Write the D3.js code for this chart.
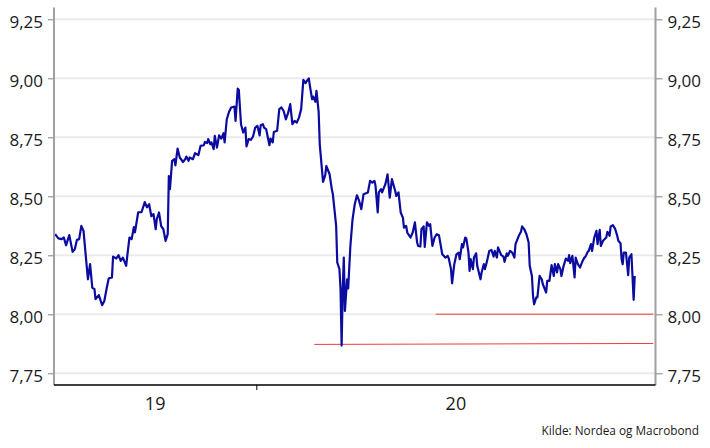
<!DOCTYPE html>
<html><head><meta charset="utf-8">
<script src="https://cdn.jsdelivr.net/npm/d3@7"></script>
<style>html,body{margin:0;padding:0;background:#fff}svg{display:block}text{font-family:"Open Sans",sans-serif;fill:#1a1a1a}</style>
</head><body><svg id="c" width="710" height="448"></svg>
<script>
const dates = [
"2019-07-01","2019-07-04","2019-07-07","2019-07-09","2019-07-11","2019-07-14","2019-07-17","2019-07-19","2019-07-21","2019-07-23",
"2019-07-25","2019-07-27","2019-07-31","2019-08-02","2019-08-04","2019-08-06","2019-08-07","2019-08-10","2019-08-13","2019-08-15",
"2019-08-17","2019-08-19","2019-08-22","2019-08-23","2019-08-26","2019-08-28","2019-08-30","2019-09-01","2019-09-04","2019-09-05",
"2019-09-07","2019-09-09","2019-09-11","2019-09-12","2019-09-15","2019-09-18","2019-09-21","2019-09-23","2019-09-25","2019-09-27",
"2019-09-29","2019-10-01","2019-10-02","2019-10-04","2019-10-06","2019-10-08","2019-10-10","2019-10-12","2019-10-13","2019-10-14",
"2019-10-16","2019-10-18","2019-10-19","2019-10-21","2019-10-23","2019-10-26","2019-10-28","2019-10-29","2019-10-31","2019-11-01",
"2019-11-04","2019-11-06","2019-11-09","2019-11-11","2019-11-14","2019-11-15","2019-11-17","2019-11-18","2019-11-20","2019-11-21",
"2019-11-23","2019-11-24","2019-11-26","2019-11-28","2019-11-30","2019-12-02","2019-12-03","2019-12-05","2019-12-07","2019-12-09",
"2019-12-12","2019-12-13","2019-12-15","2019-12-16","2019-12-18","2019-12-20","2019-12-22","2019-12-23","2019-12-25","2019-12-27",
"2019-12-29","2019-12-31","2020-01-02","2020-01-04","2020-01-05","2020-01-07","2020-01-08","2020-01-10","2020-01-13","2020-01-14",
"2020-01-16","2020-01-17","2020-01-20","2020-01-22","2020-01-24","2020-01-26","2020-01-28","2020-01-30","2020-02-01","2020-02-03",
"2020-02-05","2020-02-07","2020-02-09","2020-02-11","2020-02-13","2020-02-15","2020-02-16","2020-02-18","2020-02-19","2020-02-21",
"2020-02-22","2020-02-24","2020-02-25","2020-02-27","2020-02-28","2020-03-02","2020-03-04","2020-03-05","2020-03-08","2020-03-10",
"2020-03-11","2020-03-14","2020-03-15","2020-03-17","2020-03-18","2020-03-19","2020-03-20","2020-03-21","2020-03-22","2020-03-24",
"2020-03-25","2020-03-27","2020-03-29","2020-03-31","2020-04-02","2020-04-04","2020-04-06","2020-04-08","2020-04-12","2020-04-14",
"2020-04-16","2020-04-18","2020-04-19","2020-04-21","2020-04-22","2020-04-24","2020-04-25","2020-04-28","2020-04-30","2020-05-01",
"2020-05-02","2020-05-04","2020-05-07","2020-05-08","2020-05-10","2020-05-12","2020-05-14","2020-05-15","2020-05-17","2020-05-18",
"2020-05-21","2020-05-23","2020-05-25","2020-05-27","2020-05-28","2020-05-30","2020-05-31","2020-06-02","2020-06-03","2020-06-05",
"2020-06-07","2020-06-08","2020-06-10","2020-06-12","2020-06-14","2020-06-16","2020-06-19","2020-06-21","2020-06-22","2020-06-24",
"2020-06-25","2020-06-27","2020-06-28","2020-06-30","2020-07-02","2020-07-04","2020-07-05","2020-07-07","2020-07-08","2020-07-10",
"2020-07-11","2020-07-13","2020-07-14","2020-07-15","2020-07-17","2020-07-18","2020-07-20","2020-07-21","2020-07-24","2020-07-25",
"2020-07-27","2020-07-28","2020-07-30","2020-08-01","2020-08-03","2020-08-05","2020-08-06","2020-08-08","2020-08-09","2020-08-11",
"2020-08-12","2020-08-14","2020-08-15","2020-08-17","2020-08-18","2020-08-20","2020-08-22","2020-08-24","2020-08-25","2020-08-28",
"2020-08-30","2020-08-31","2020-09-02","2020-09-04","2020-09-06","2020-09-07","2020-09-09","2020-09-10","2020-09-11","2020-09-13",
"2020-09-14","2020-09-16","2020-09-18","2020-09-19","2020-09-22","2020-09-23","2020-09-25","2020-09-27","2020-09-29","2020-09-30",
"2020-10-02","2020-10-03","2020-10-05","2020-10-06","2020-10-08","2020-10-10","2020-10-12","2020-10-13","2020-10-14","2020-10-16",
"2020-10-18","2020-10-19","2020-10-21","2020-10-23","2020-10-25","2020-10-27","2020-10-28","2020-10-30","2020-10-31","2020-11-02",
"2020-11-03","2020-11-05","2020-11-07","2020-11-08","2020-11-10","2020-11-11","2020-11-13","2020-11-16","2020-11-17","2020-11-19",
"2020-11-20","2020-11-22","2020-11-24","2020-11-26","2020-11-27","2020-11-29","2020-11-30","2020-12-01","2020-12-02","2020-12-04",
"2020-12-06","2020-12-07","2020-12-09","2020-12-11","2020-12-12"
];
const values = [
8.339,8.321,8.318,8.325,8.292,8.335,8.264,8.275,8.315,8.318,
8.374,8.353,8.148,8.212,8.113,8.106,8.064,8.081,8.038,8.056,
8.106,8.151,8.156,8.244,8.236,8.250,8.226,8.240,8.205,8.247,
8.325,8.318,8.369,8.347,8.432,8.432,8.475,8.453,8.466,8.415,
8.424,8.360,8.403,8.431,8.373,8.360,8.311,8.339,8.585,8.530,
8.650,8.657,8.631,8.702,8.664,8.645,8.657,8.668,8.650,8.664,
8.657,8.682,8.674,8.713,8.716,8.730,8.725,8.742,8.720,8.728,
8.699,8.756,8.706,8.758,8.744,8.767,8.728,8.826,8.857,8.876,
8.880,8.819,8.956,8.950,8.805,8.770,8.791,8.711,8.742,8.739,
8.753,8.791,8.798,8.758,8.801,8.805,8.791,8.784,8.716,8.744,
8.728,8.772,8.777,8.869,8.876,8.861,8.826,8.852,8.890,8.805,
8.819,8.812,8.833,8.869,8.993,8.979,8.987,8.999,8.967,8.911,
8.922,8.900,8.946,8.856,8.720,8.561,8.589,8.628,8.593,8.530,
8.508,8.374,8.219,8.191,8.106,7.867,8.106,8.240,8.014,8.148,
8.109,8.289,8.403,8.466,8.504,8.480,8.445,8.508,8.516,8.565,
8.558,8.565,8.544,8.431,8.516,8.530,8.516,8.551,8.593,8.544,
8.494,8.572,8.522,8.501,8.516,8.431,8.410,8.367,8.374,8.346,
8.325,8.346,8.389,8.304,8.289,8.287,8.360,8.372,8.285,8.389,
8.374,8.381,8.289,8.325,8.339,8.335,8.254,8.244,8.240,8.247,
8.236,8.191,8.131,8.212,8.254,8.261,8.233,8.297,8.283,8.325,
8.321,8.261,8.183,8.233,8.191,8.240,8.258,8.205,8.148,8.177,
8.212,8.191,8.226,8.268,8.272,8.244,8.268,8.240,8.283,8.261,
8.250,8.244,8.222,8.258,8.247,8.268,8.261,8.240,8.297,8.332,
8.349,8.372,8.360,8.339,8.304,8.205,8.162,8.078,8.042,8.071,
8.071,8.162,8.148,8.127,8.092,8.141,8.141,8.208,8.162,8.212,
8.177,8.212,8.191,8.162,8.205,8.236,8.226,8.250,8.216,8.247,
8.156,8.240,8.212,8.198,8.222,8.240,8.244,8.264,8.268,8.297,
8.268,8.325,8.353,8.297,8.357,8.289,8.311,8.325,8.349,8.332,
8.372,8.377,8.363,8.332,8.311,8.301,8.233,8.212,8.261,8.261,
8.165,8.240,8.254,8.061,8.162
];
// horizontal reference lines (red)
const refStartDates = ["2020-06-13","2020-02-23"];
const refEndDates   = ["2020-12-29","2020-12-29"];
const refStartVals  = [8.00, 7.872];
const refEndVals    = [8.00, 7.876];
// axes
const xDomain = ["2019-06-30","2020-12-31"];
const yDomain = [7.70, 9.30];
const yTicks = [7.75, 8.00, 8.25, 8.50, 8.75, 9.00, 9.25];
const sourceText = "Kilde: Nordea og Macrobond";

const parse = d3.timeParse("%Y-%m-%d");
const svg = d3.select("#c");
svg.append("rect").attr("width",710).attr("height",448).attr("fill","#fff");

const L = 54, R = 655.5, T = 7.4, B = 385;
const x = d3.scaleTime().domain(xDomain.map(parse)).range([L, R]);
const y = d3.scaleLinear().domain(yDomain).range([B, T]);
const fmt = v => d3.format(".2f")(v).replace(".", ",");

// gridlines
svg.append("g").selectAll("line").data(yTicks).join("line")
  .attr("x1", L).attr("x2", R)
  .attr("y1", d => y(d)).attr("y2", d => y(d))
  .attr("stroke", "#ebebeb").attr("stroke-width", 2);

// reference lines
svg.append("g").selectAll("line").data(refStartDates.map((d,i)=>i)).join("line")
  .attr("x1", i => x(parse(refStartDates[i]))).attr("x2", i => x(parse(refEndDates[i])))
  .attr("y1", i => y(refStartVals[i])).attr("y2", i => y(refEndVals[i]))
  .attr("stroke", "#f03c3c").attr("stroke-width", 1);

// main series
const series = dates.map((d,i) => ({date: parse(d), value: values[i]}));
svg.append("path").datum(series)
  .attr("fill","none").attr("stroke","#0b0ba0").attr("stroke-width",2.2)
  .attr("stroke-linejoin","round")
  .attr("d", d3.line().x(d => x(d.date)).y(d => y(d.value)));

// left axis
const gl = svg.append("g").attr("transform", `translate(${L},0)`)
  .call(d3.axisLeft(y).tickValues(yTicks).tickFormat(fmt).tickSize(6).tickSizeOuter(0));
gl.select(".domain").remove();
gl.selectAll(".tick line").attr("stroke","#a8a8a8").attr("stroke-width",1.5);
gl.selectAll(".tick text").attr("dy", null).attr("y", 8.5).attr("x", -11)
  .style("font-size","17px").attr("fill","#1a1a1a");
svg.append("line").attr("x1",L).attr("x2",L).attr("y1",T).attr("y2",B)
  .attr("stroke","#a0a0a0").attr("stroke-width",2);

// right axis
const gr = svg.append("g").attr("transform", `translate(${R},0)`)
  .call(d3.axisRight(y).tickValues(yTicks).tickFormat(fmt).tickSize(7).tickSizeOuter(0));
gr.select(".domain").remove();
gr.selectAll(".tick line").attr("stroke","#a8a8a8").attr("stroke-width",1.5);
gr.selectAll(".tick text").attr("dy", null).attr("y", 8.5).attr("x", 45.5)
  .attr("text-anchor","end").style("font-size","17px").attr("fill","#1a1a1a");
svg.append("line").attr("x1",R).attr("x2",R).attr("y1",T).attr("y2",B)
  .attr("stroke","#a0a0a0").attr("stroke-width",2);

// bottom axis: year boundaries as ticks, labels centred in visible part of each year
const [d0, d1] = x.domain();
const years = d3.timeYear.range(d3.timeYear.floor(d0), d1);
const boundaries = years.filter(yr => yr > d0);
const gb = svg.append("g").attr("transform", `translate(0,${B})`)
  .call(d3.axisBottom(x).tickValues(boundaries).tickFormat("").tickSize(5).tickSizeOuter(0));
gb.select(".domain").remove();
gb.selectAll(".tick line").attr("stroke","#000").attr("stroke-width",1);
svg.append("line").attr("x1",L).attr("x2",R).attr("y1",B).attr("y2",B)
  .attr("stroke","#000").attr("stroke-width",1.5);
svg.append("g").selectAll("text").data(years).join("text")
  .attr("x", yr => {
    const a = yr < d0 ? d0 : yr;
    const nb = d3.timeYear.offset(yr, 1);
    const b = nb > d1 ? d1 : nb;
    return (x(a) + x(b)) / 2;
  })
  .attr("y", 409.5).attr("text-anchor","middle").style("font-size","18px")
  .text(d3.timeFormat("%y"));

// source
svg.append("text").attr("x", 699).attr("y", 435).attr("text-anchor","end")
  .style("font-size","11.8px").text(sourceText);
</script>
</body></html>
